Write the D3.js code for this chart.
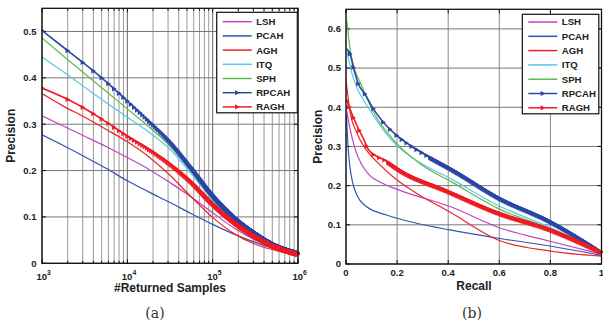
<!DOCTYPE html>
<html><head><meta charset="utf-8">
<script src="https://cdn.jsdelivr.net/npm/d3@7"></script>
<style>
body{margin:0;background:#fff}
svg{display:block}
text{font-family:"Liberation Sans",Arial,sans-serif;font-weight:bold;fill:#222}
</style>
</head><body>
<svg id="c" width="603" height="320"></svg>
<script>
// ---------------- DATA ----------------
const seriesNames = ["LSH","PCAH","AGH","ITQ","SPH","RPCAH","RAGH"];
const seriesColors = ["#c044bc","#3353b4","#ee2424","#5cc8e6","#5cba48","#2a46a6","#ee1c24"];
const markedSeries = ["RPCAH","RAGH"];

// (a) precision vs #returned samples
const returnedSamples = [1000,1778,3162,5623,10000,17783,31623,56234,100000,177828,316228,562341,1000000];
const precA_LSH   = [0.318,0.296,0.274,0.252,0.228,0.203,0.174,0.143,0.109,0.076,0.050,0.032,0.020];
const precA_PCAH  = [0.277,0.254,0.230,0.205,0.178,0.154,0.131,0.107,0.084,0.063,0.045,0.030,0.020];
const precA_AGH   = [0.366,0.339,0.315,0.289,0.262,0.230,0.190,0.143,0.099,0.064,0.041,0.027,0.018];
const precA_ITQ   = [0.445,0.413,0.380,0.347,0.315,0.283,0.246,0.193,0.136,0.092,0.059,0.035,0.020];
const precA_SPH   = [0.486,0.447,0.409,0.371,0.333,0.295,0.253,0.198,0.139,0.094,0.060,0.036,0.020];
const precA_RPCAH = [0.502,0.466,0.430,0.392,0.350,0.307,0.262,0.206,0.147,0.100,0.065,0.038,0.022];
const precA_RAGH  = [0.378,0.358,0.334,0.305,0.274,0.246,0.214,0.175,0.128,0.089,0.058,0.035,0.020];
const xTicksA = [1e3,1e4,1e5,1e6];
const yTicksA = [0,0.1,0.2,0.3,0.4,0.5];

// (b) precision vs recall
const recB_LSH   = [0.003,0.016,0.035,0.060,0.090,0.146,0.211,0.410,0.603,0.798,1.0];
const precB_LSH  = [0.390,0.345,0.295,0.255,0.228,0.205,0.188,0.146,0.092,0.058,0.025];
const recB_PCAH  = [0.002,0.008,0.015,0.025,0.040,0.081,0.159,0.277,0.407,0.603,0.798,1.0];
const precB_PCAH = [0.380,0.300,0.250,0.210,0.180,0.146,0.125,0.104,0.087,0.065,0.046,0.022];
const recB_AGH   = [0.001,0.016,0.042,0.081,0.130,0.185,0.277,0.400,0.600,0.800,1.0];
const precB_AGH  = [0.465,0.388,0.335,0.290,0.255,0.222,0.180,0.135,0.060,0.033,0.020];
const recB_ITQ   = [0.003,0.022,0.042,0.081,0.133,0.198,0.263,0.420,0.600,0.800,1.0];
const precB_ITQ  = [0.546,0.489,0.451,0.405,0.354,0.303,0.270,0.214,0.148,0.093,0.028];
const recB_SPH   = [0.003,0.016,0.029,0.055,0.107,0.198,0.290,0.420,0.600,0.800,1.0];
const precB_SPH  = [0.621,0.549,0.506,0.464,0.388,0.308,0.256,0.207,0.140,0.090,0.025];
const recB_RPCAH  = [0.003,0.016,0.029,0.048,0.074,0.107,0.146,0.198,0.250,0.315,0.420,0.600,0.800,1.0];
const precB_RPCAH = [0.549,0.536,0.502,0.460,0.434,0.396,0.362,0.328,0.303,0.277,0.239,0.168,0.108,0.030];
const recB_RAGH   = [0.003,0.016,0.042,0.068,0.090,0.159,0.211,0.400,0.600,0.800,1.0];
const precB_RAGH  = [0.420,0.395,0.354,0.320,0.290,0.262,0.239,0.185,0.129,0.087,0.030];
const xTicksB = [0,0.2,0.4,0.6,0.8,1];
const yTicksB = [0,0.1,0.2,0.3,0.4,0.5,0.6];

// marker positions (returned-sample counts where markers sit; every 1000 samples)
const markerSamples = d3.range(1000, 1000001, 1000);
const markerRecall_RPCAH = [0.016,0.029,0.048,0.074,0.107,0.146,0.172,0.198,0.218,0.237,0.257,0.276,0.296,0.315].concat(d3.range(0.33,1.0,0.003));
const markerRecall_RAGH  = [0.013,0.029,0.052,0.081,0.107,0.13,0.15].concat(d3.range(0.165,1.0,0.003));

// ---------------- DRAW ----------------
const svg = d3.select("#c");
const tri = "M-2.1,-2.6 L2.6,0 L-2.1,2.6 Z";

function yFromPath(node){
  const len = node.getTotalLength();
  const pts = [];
  for(let l=0;l<=len;l+=0.4) pts.push(node.getPointAtLength(l));
  pts.push(node.getPointAtLength(len));
  return function(x){
    let lo=0, hi=pts.length-1;
    if(x<=pts[0].x) return pts[0].y;
    if(x>=pts[hi].x) return pts[hi].y;
    while(hi-lo>1){const m=(lo+hi)>>1; if(pts[m].x<x) lo=m; else hi=m;}
    const a=pts[lo], b=pts[hi];
    const t = b.x===a.x?0:(x-a.x)/(b.x-a.x);
    return a.y + t*(b.y-a.y);
  };
}

function frame(g, x0, y0, w, h){
  g.append("rect").attr("x",x0).attr("y",y0).attr("width",w).attr("height",h)
    .attr("fill","none").attr("stroke","#111").attr("stroke-width",1.3);
}

function legend(g, x0, y0, w, h, rowY0, rowStep){
  g.append("rect").attr("x",x0).attr("y",y0).attr("width",w).attr("height",h)
    .attr("fill","#fff").attr("stroke","#111").attr("stroke-width",1.2);
  seriesNames.forEach((n,i)=>{
    const y = rowY0 + i*rowStep;
    g.append("line").attr("x1",x0+6).attr("x2",x0+35).attr("y1",y).attr("y2",y)
      .attr("stroke",seriesColors[i]).attr("stroke-width",1.5);
    if(markedSeries.includes(n)){
      g.append("path").attr("d",tri).attr("transform",`translate(${x0+20.5},${y})`)
        .attr("fill",seriesColors[i]);
    }
    g.append("text").attr("x",x0+39.5).attr("y",y+3.4).attr("font-size",9.6).text(n);
  });
}

// ===== Chart (a) =====
(function(){
  const L=42, R=298, T=8.3, B=263.3;
  const x = d3.scaleLog().domain([1e3,1e6]).range([L,R]);
  const y = d3.scaleLinear().domain([0,0.55]).range([B,T]);
  const g = svg.append("g");
  g.append("clipPath").attr("id","clipA").append("rect").attr("x",L).attr("y",T).attr("width",R-L+2).attr("height",B-T);
  const minors = [];
  for(let e=3;e<6;e++) for(let k=1;k<=9;k++) minors.push(k*Math.pow(10,e));
  minors.push(1e6);
  g.selectAll(".vg").data(minors).enter().append("line")
    .attr("x1",d=>x(d)).attr("x2",d=>x(d)).attr("y1",T).attr("y2",B)
    .attr("stroke",d=>xTicksA.includes(d)?"#666":"#999").attr("stroke-width",1);
  g.selectAll(".hg").data(yTicksA).enter().append("line")
    .attr("x1",L).attr("x2",R).attr("y1",d=>y(d)).attr("y2",d=>y(d))
    .attr("stroke","#777").attr("stroke-width",1);
  minors.forEach(d=>{
    const len = xTicksA.includes(d)?4:2.5;
    g.append("line").attr("x1",x(d)).attr("x2",x(d)).attr("y1",B).attr("y2",B-len).attr("stroke","#111");
    g.append("line").attr("x1",x(d)).attr("x2",x(d)).attr("y1",T).attr("y2",T+len).attr("stroke","#111");
  });
  yTicksA.forEach(d=>{
    g.append("line").attr("x1",L).attr("x2",L+4).attr("y1",y(d)).attr("y2",y(d)).attr("stroke","#111");
    g.append("line").attr("x1",R).attr("x2",R-4).attr("y1",y(d)).attr("y2",y(d)).attr("stroke","#111");
  });
  g.selectAll(".yl").data(yTicksA).enter().append("text")
    .attr("x",L-5.5).attr("y",d=>y(d)+3.3).attr("text-anchor","end").attr("font-size",9.5)
    .text(d=>d===0?"0":d3.format(".1f")(d));
  xTicksA.forEach(d=>{
    const t = g.append("text").attr("x",x(d)-5.5).attr("y",280).attr("font-size",9.5);
    t.append("tspan").text("10");
    t.append("tspan").attr("dy",-5).attr("font-size",6.8).text(String(Math.round(Math.log10(d))));
  });
  const arrs = [precA_LSH,precA_PCAH,precA_AGH,precA_ITQ,precA_SPH,precA_RPCAH,precA_RAGH];
  const line = d3.line().x(d=>x(d[0])).y(d=>y(d[1])).curve(d3.curveMonotoneX);
  const cg = g.append("g").attr("clip-path","url(#clipA)");
  arrs.forEach((a,i)=>{
    const pts = returnedSamples.map((n,j)=>[n,a[j]]);
    const p = cg.append("path").attr("d",line(pts)).attr("fill","none")
      .attr("stroke",seriesColors[i]).attr("stroke-width",markedSeries.includes(seriesNames[i])?1.6:1.2);
    if(markedSeries.includes(seriesNames[i])){
      const f = yFromPath(p.node());
      cg.append("g").selectAll("path").data(markerSamples).enter().append("path")
        .attr("d",tri).attr("fill",seriesColors[i])
        .attr("transform",d=>`translate(${x(d)},${f(x(d))})`);
    }
  });
  frame(g,L,T,R-L,B-T);
  legend(g,216.7,12.3,80.6,100.5,21.7,14.2);
  g.append("text").attr("x",(L+R)/2).attr("y",292).attr("text-anchor","middle").attr("font-size",12).text("#Returned Samples");
  g.append("text").attr("transform",`translate(15,${(T+B)/2}) rotate(-90)`).attr("text-anchor","middle").attr("font-size",12).text("Precision");
  g.append("text").attr("x",155).attr("y",318).attr("text-anchor","middle")
    .style("font-family","'DejaVu Serif','Liberation Serif',serif").style("font-weight","normal")
    .attr("font-size",14).style("fill","#333").text("(a)");
})();

// ===== Chart (b) =====
(function(){
  const L=346, R=601.5, T=9.3, B=264;
  const x = d3.scaleLinear().domain([0,1]).range([L,R]);
  const y = d3.scaleLinear().domain([0,0.65]).range([B,T]);
  const g = svg.append("g");
  g.append("clipPath").attr("id","clipB").append("rect").attr("x",L).attr("y",T-2).attr("width",R-L+2).attr("height",B-T+2);
  g.selectAll(".vg").data(xTicksB).enter().append("line")
    .attr("x1",d=>x(d)).attr("x2",d=>x(d)).attr("y1",T).attr("y2",B)
    .attr("stroke","#888").attr("stroke-width",1);
  g.selectAll(".hg").data(yTicksB).enter().append("line")
    .attr("x1",L).attr("x2",R).attr("y1",d=>y(d)).attr("y2",d=>y(d))
    .attr("stroke","#777").attr("stroke-width",1);
  xTicksB.forEach(d=>{
    g.append("line").attr("x1",x(d)).attr("x2",x(d)).attr("y1",B).attr("y2",B-4).attr("stroke","#111");
    g.append("line").attr("x1",x(d)).attr("x2",x(d)).attr("y1",T).attr("y2",T+4).attr("stroke","#111");
  });
  yTicksB.forEach(d=>{
    g.append("line").attr("x1",L).attr("x2",L+4).attr("y1",y(d)).attr("y2",y(d)).attr("stroke","#111");
    g.append("line").attr("x1",R).attr("x2",R-4).attr("y1",y(d)).attr("y2",y(d)).attr("stroke","#111");
  });
  g.selectAll(".yl").data(yTicksB).enter().append("text")
    .attr("x",L-5).attr("y",d=>y(d)+3.3).attr("text-anchor","end").attr("font-size",9.5)
    .text(d=>d===0?"0":d3.format(".1f")(d));
  g.selectAll(".xl").data(xTicksB).enter().append("text")
    .attr("x",d=>x(d)).attr("y",275.5).attr("text-anchor","middle").attr("font-size",9.5)
    .text(d=>(d===0||d===1)?String(d):d3.format(".1f")(d));
  const recs = [recB_LSH,recB_PCAH,recB_AGH,recB_ITQ,recB_SPH,recB_RPCAH,recB_RAGH];
  const precs = [precB_LSH,precB_PCAH,precB_AGH,precB_ITQ,precB_SPH,precB_RPCAH,precB_RAGH];
  const mk = {RPCAH:markerRecall_RPCAH, RAGH:markerRecall_RAGH};
  const line = d3.line().x(d=>x(d[0])).y(d=>y(d[1])).curve(d3.curveMonotoneX);
  const cg = g.append("g").attr("clip-path","url(#clipB)");
  recs.forEach((r,i)=>{
    const pts = r.map((v,j)=>[v,precs[i][j]]);
    const p = cg.append("path").attr("d",line(pts)).attr("fill","none")
      .attr("stroke",seriesColors[i]).attr("stroke-width",markedSeries.includes(seriesNames[i])?1.6:1.2);
    const m = mk[seriesNames[i]];
    if(m){
      const f = yFromPath(p.node());
      cg.append("g").selectAll("path").data(m).enter().append("path")
        .attr("d",tri).attr("fill",seriesColors[i])
        .attr("transform",d=>`translate(${x(d)},${f(x(d))})`);
    }
  });
  frame(g,L,T,R-L,B-T);
  legend(g,522.3,14.3,76.5,99.5,22,14.3);
  g.append("text").attr("x",474).attr("y",290).attr("text-anchor","middle").attr("font-size",12).text("Recall");
  g.append("text").attr("transform",`translate(322,${(T+B)/2}) rotate(-90)`).attr("text-anchor","middle").attr("font-size",12).text("Precision");
  g.append("text").attr("x",472).attr("y",318).attr("text-anchor","middle")
    .style("font-family","'DejaVu Serif','Liberation Serif',serif").style("font-weight","normal")
    .attr("font-size",14).style("fill","#333").text("(b)");
})();
</script>
</body></html>
